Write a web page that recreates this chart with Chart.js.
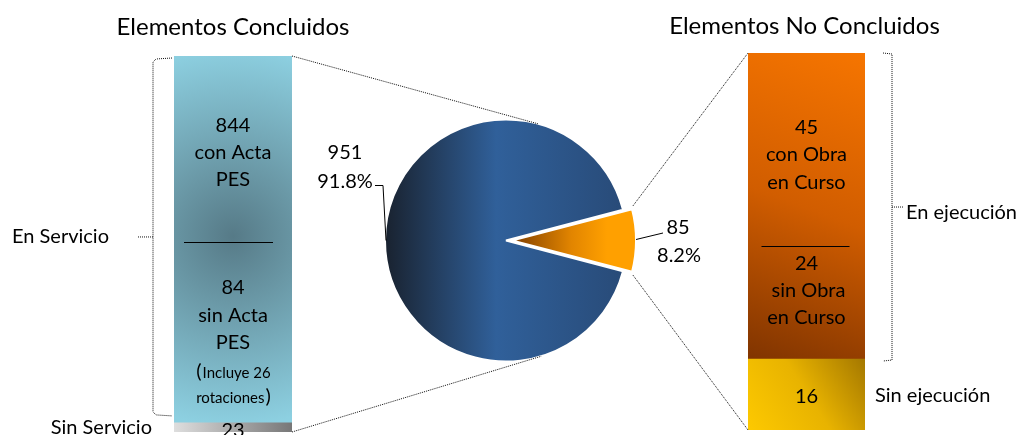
<!DOCTYPE html>
<html>
<head>
<meta charset="utf-8">
<title>Elementos Concluidos / No Concluidos</title>
<script src="https://cdn.jsdelivr.net/npm/chart.js@4.4.0/dist/chart.umd.min.js"></script>
<style>
  html, body { margin: 0; padding: 0; background: #fff; }
  #wrap { position: relative; width: 1021px; height: 435px; overflow: hidden; }
  #wrap canvas { position: absolute; left: 0; top: 0; }
</style>
</head>
<body>
<div id="wrap">
  <canvas id="leftBar" width="1021" height="435"></canvas>
  <canvas id="rightBar" width="1021" height="435"></canvas>
  <canvas id="pie" width="1021" height="435"></canvas>
</div>
<script>
// Pie: concluded vs not concluded
const pieLabels = ['Elementos Concluidos', 'Elementos No Concluidos'];
const pieValues = [951, 85];

// Left bar (breakdown of concluded), bottom segment first
const leftLabels = ['Sin Servicio', 'En Servicio'];
const leftValues = [23, 928];
const leftDetail = [844, 84];   // con Acta PES / sin Acta PES
const rotaciones = 26;

// Right bar (breakdown of not concluded), bottom segment first
const rightLabels = ['Sin ejecución', 'En ejecución'];
const rightValues = [16, 69];
const rightDetail = [45, 24];   // con Obra en Curso / sin Obra en Curso

const FONT = 'Lato, "Open Sans", sans-serif';

// common options for the two stacked bars
function barOptions(padding, total) {
  return {
    responsive: false,
    animation: false,
    layout: { padding: padding },
    plugins: { legend: { display: false }, tooltip: { enabled: false } },
    scales: {
      x: { display: false, stacked: true },
      y: { display: false, stacked: true, min: 0, max: total }
    }
  };
}

const leftChart = new Chart(document.getElementById('leftBar'), {
  type: 'bar',
  data: {
    labels: ['Concluidos'],
    datasets: [
      {
        label: leftLabels[0],
        data: [leftValues[0]],
        barPercentage: 1, categoryPercentage: 1, borderWidth: 0,
        backgroundColor: (ctx) => {
          const ca = ctx.chart.chartArea;
          if (!ca) return '#aaa';
          const g = ctx.chart.ctx.createLinearGradient(ca.left, 0, ca.right, 0);
          g.addColorStop(0, '#dedede');
          g.addColorStop(1, '#777777');
          return g;
        }
      },
      {
        label: leftLabels[1],
        data: [leftValues[1]],
        barPercentage: 1, categoryPercentage: 1, borderWidth: 0,
        backgroundColor: (ctx) => {
          const ca = ctx.chart.chartArea;
          if (!ca) return '#8ccfe0';
          const cx = (ca.left + ca.right) / 2;
          const cy = ca.top + (ca.bottom - ca.top) * 0.48;
          const g = ctx.chart.ctx.createRadialGradient(cx, cy, 0, cx, cy, 190);
          g.addColorStop(0, '#567a87');
          g.addColorStop(0.35, '#6a98a6');
          g.addColorStop(1, '#8dd0e1');
          return g;
        }
      }
    ]
  },
  options: barOptions({ left: 174, right: 729, top: 56, bottom: 3 },
    leftValues.reduce((a, b) => a + b, 0))
});

const rightChart = new Chart(document.getElementById('rightBar'), {
  type: 'bar',
  data: {
    labels: ['No Concluidos'],
    datasets: [
      {
        label: rightLabels[0],
        data: [rightValues[0]],
        barPercentage: 1, categoryPercentage: 1, borderWidth: 0,
        backgroundColor: (ctx) => {
          const ca = ctx.chart.chartArea;
          if (!ca) return '#f2c000';
          const bottom = ca.bottom;
          const g = ctx.chart.ctx.createLinearGradient(ca.left, bottom, ca.right, bottom - 75);
          g.addColorStop(0, '#fdc900');
          g.addColorStop(0.5, '#e8b300');
          g.addColorStop(1, '#a27600');
          return g;
        }
      },
      {
        label: rightLabels[1],
        data: [rightValues[1]],
        barPercentage: 1, categoryPercentage: 1, borderWidth: 0,
        backgroundColor: (ctx) => {
          const ca = ctx.chart.chartArea;
          if (!ca) return '#d05c00';
          const g = ctx.chart.ctx.createLinearGradient(ca.right, ca.top, ca.left, ca.top + 310);
          g.addColorStop(0, '#f67500');
          g.addColorStop(0.5, '#d15d00');
          g.addColorStop(1, '#7e3300');
          return g;
        }
      }
    ]
  },
  options: barOptions({ left: 748, right: 156, top: 53, bottom: 5 },
    rightValues.reduce((a, b) => a + b, 0))
});

const pieTotal = pieValues.reduce((a, b) => a + b, 0);
// rotate so the small slice is centred on the right (3 o'clock)
const pieRotation = 90 - pieValues[0] / pieTotal * 360 - pieValues[1] / pieTotal * 180;
const pieOffset = 24; // chart.js shifts by offset/4

function dotted(ctx, pts) {
  ctx.save();
  ctx.strokeStyle = '#111';
  ctx.lineWidth = 1;
  ctx.setLineDash([1, 1]);
  ctx.beginPath();
  pts.forEach((p, i) => i ? ctx.lineTo(p[0], p[1]) : ctx.moveTo(p[0], p[1]));
  ctx.stroke();
  ctx.restore();
}

function solid(ctx, pts) {
  ctx.save();
  ctx.strokeStyle = '#000';
  ctx.lineWidth = 1;
  ctx.beginPath();
  pts.forEach((p, i) => i ? ctx.lineTo(p[0], p[1]) : ctx.moveTo(p[0], p[1]));
  ctx.stroke();
  ctx.restore();
}

function text(ctx, str, x, y, size, align) {
  ctx.font = size + 'px ' + FONT;
  ctx.textAlign = align || 'center';
  ctx.textBaseline = 'middle';
  ctx.fillStyle = '#000';
  ctx.fillText(str, x, y);
}

// tangent point from external point p to circle c (side = +1 / -1)
function tangent(p, c, r, side) {
  const dx = p[0] - c[0], dy = p[1] - c[1];
  const d = Math.sqrt(dx * dx + dy * dy);
  const phi = Math.atan2(dy, dx);
  const a = phi + side * Math.acos(r / d);
  return [c[0] + r * Math.cos(a), c[1] + r * Math.sin(a)];
}

const overlay = {
  id: 'overlay',
  afterDraw(chart) {
    const ctx = chart.ctx;
    const arcs = chart.getDatasetMeta(0).data;
    const big = arcs[0], small = arcs[1];
    const c = [big.x, big.y];
    const r = big.outerRadius;

    // bars
    const lBot = leftChart.getDatasetMeta(0).data[0];
    const lTop = leftChart.getDatasetMeta(1).data[0];
    const rBot = rightChart.getDatasetMeta(0).data[0];
    const rTop = rightChart.getDatasetMeta(1).data[0];
    const lRight = lTop.x + lTop.width / 2, lLeft = lTop.x - lTop.width / 2;
    const rLeft = rTop.x - rTop.width / 2, rRight = rTop.x + rTop.width / 2;

    // series lines: left bar corners -> tangents of pie
    dotted(ctx, [[lRight, lTop.y], tangent([lRight, lTop.y], c, r, 1)]);
    dotted(ctx, [[lRight, lBot.base], tangent([lRight, lBot.base], c, r, -1)]);

    // small slice corners -> right bar
    const half = (small.startAngle + small.endAngle) / 2;
    const sh = pieOffset / 4;
    const fix = 1 - Math.sin(Math.min(Math.PI, small.circumference));
    const sr = small.outerRadius + sh * fix;
    const sx = small.x + Math.cos(half) * sh, sy = small.y + Math.sin(half) * sh;
    const p1 = [sx + sr * Math.cos(small.startAngle), sy + sr * Math.sin(small.startAngle)];
    const p2 = [sx + sr * Math.cos(small.endAngle), sy + sr * Math.sin(small.endAngle)];
    dotted(ctx, [[p1[0] + 1, p1[1] - 3], [rLeft, rTop.y]]);
    dotted(ctx, [[p2[0] + 1, p2[1] + 3], [rLeft, rBot.base]]);

    // brackets
    const bx = lLeft - 21, bTop = lTop.y + 3, bBot = lTop.base - 8, bMid = (bTop + bBot) / 2;
    dotted(ctx, [[lLeft - 2, bTop - 1], [bx + 3, bTop], [bx, bTop + 3], [bx, bBot - 3], [bx + 3, bBot], [lLeft - 2, bBot + 1]]);
    dotted(ctx, [[bx, bMid], [bx - 16, bMid]]);
    const rx = rRight + 27, rT = rTop.y, rB = rTop.base + 2, rM = (rT + rB) / 2;
    dotted(ctx, [[rx - 9, rT], [rx, rT + 1], [rx, rB - 1], [rx - 9, rB]]);
    dotted(ctx, [[rx, rM], [rx + 11, rM]]);

    // pie labels with leader lines
    const pct = (v) => (v / pieTotal * 100).toFixed(1) + '%';
    text(ctx, String(pieValues[0]), 345, 153, 20);
    text(ctx, pct(pieValues[0]), 345, 182, 20);
    solid(ctx, [[375, 185.5], [383, 185.5], [c[0] - r + 1, c[1]]]);
    text(ctx, String(pieValues[1]), 678, 228, 20);
    text(ctx, pct(pieValues[1]), 679, 256, 20);
    solid(ctx, [[sx + sr, sy - 1], [663, 233]]);

    // titles
    text(ctx, pieLabels[0], lTop.x, 27, 24);
    text(ctx, pieLabels[1], rTop.x - 2, 26, 24);

    // left bar texts
    const lx = lTop.x;
    text(ctx, String(leftDetail[0]), lx, 126, 20);
    text(ctx, 'con Acta', lx, 153, 20);
    text(ctx, 'PES', lx, 180, 20);
    solid(ctx, [[lx - 49, 242.5], [lx + 40, 242.5]]);
    text(ctx, String(leftDetail[1]), lx, 288, 20);
    text(ctx, 'sin Acta', lx, 316, 20);
    text(ctx, 'PES', lx, 343, 20);
    // mixed size lines
    ctx.font = '15px ' + FONT;
    const w1 = ctx.measureText('Incluye ' + rotaciones).width;
    const w2 = ctx.measureText('rotaciones').width;
    ctx.font = '20px ' + FONT;
    const pw = ctx.measureText('(').width;
    let x0 = lx - (w1 + pw) / 2;
    text(ctx, '(', x0, 372, 20, 'left');
    text(ctx, 'Incluye ' + rotaciones, x0 + pw + 1, 373, 15, 'left');
    x0 = lx - (w2 + pw) / 2;
    text(ctx, 'rotaciones', x0, 398, 15, 'left');
    text(ctx, ')', x0 + w2 + 1, 397, 20, 'left');
    text(ctx, String(leftValues[0]), lx, 431, 20);

    // left side labels
    text(ctx, leftLabels[1], 12, 237, 20, 'left');
    text(ctx, leftLabels[0], lLeft - 22, 428, 20, 'right');

    // right bar texts
    const rxc = rTop.x;
    text(ctx, String(rightDetail[0]), rxc, 128, 20);
    text(ctx, 'con Obra', rxc, 155, 20);
    text(ctx, 'en Curso', rxc, 183, 20);
    solid(ctx, [[rxc - 45, 246.5], [rxc + 43, 246.5]]);
    text(ctx, String(rightDetail[1]), rxc, 264, 20);
    text(ctx, 'sin Obra', rxc + 2, 291, 20);
    text(ctx, 'en Curso', rxc, 318, 20);
    text(ctx, String(rightValues[0]), rxc, 397, 20);

    // right side labels
    text(ctx, rightLabels[1], rx + 14, 213, 20, 'left');
    text(ctx, rightLabels[0], rx - 17, 396, 20, 'left');
  }
};

new Chart(document.getElementById('pie'), {
  type: 'pie',
  data: {
    labels: pieLabels,
    datasets: [{
      data: pieValues,
      offset: [0, pieOffset],
      borderColor: '#ffffff',
      borderWidth: 2,
      backgroundColor: (ctx) => {
        const ch = ctx.chart;
        const ca = ch.chartArea;
        if (!ca) return ctx.dataIndex === 0 ? '#2c5a8f' : '#f39000';
        const cx = (ca.left + ca.right) / 2, cy = (ca.top + ca.bottom) / 2;
        let g;
        if (ctx.dataIndex === 0) {
          g = ch.ctx.createLinearGradient(cx - 121, 0, cx + 121, 0);
          g.addColorStop(0, '#19222f');
          g.addColorStop(0.46, '#30609a');
          g.addColorStop(1, '#284a77');
        } else {
          g = ch.ctx.createLinearGradient(cx + 6, cy, cx + 95, cy);
          g.addColorStop(0, '#8a4600');
          g.addColorStop(0.6, '#e28500');
          g.addColorStop(1, '#ffa000');
        }
        return g;
      }
    }]
  },
  options: {
    responsive: false,
    animation: false,
    radius: 121,
    rotation: pieRotation,
    layout: { padding: { left: 366, right: 375, top: 100, bottom: 54 } },
    plugins: { legend: { display: false }, tooltip: { enabled: false } }
  },
  plugins: [overlay]
});
</script>
</body>
</html>
